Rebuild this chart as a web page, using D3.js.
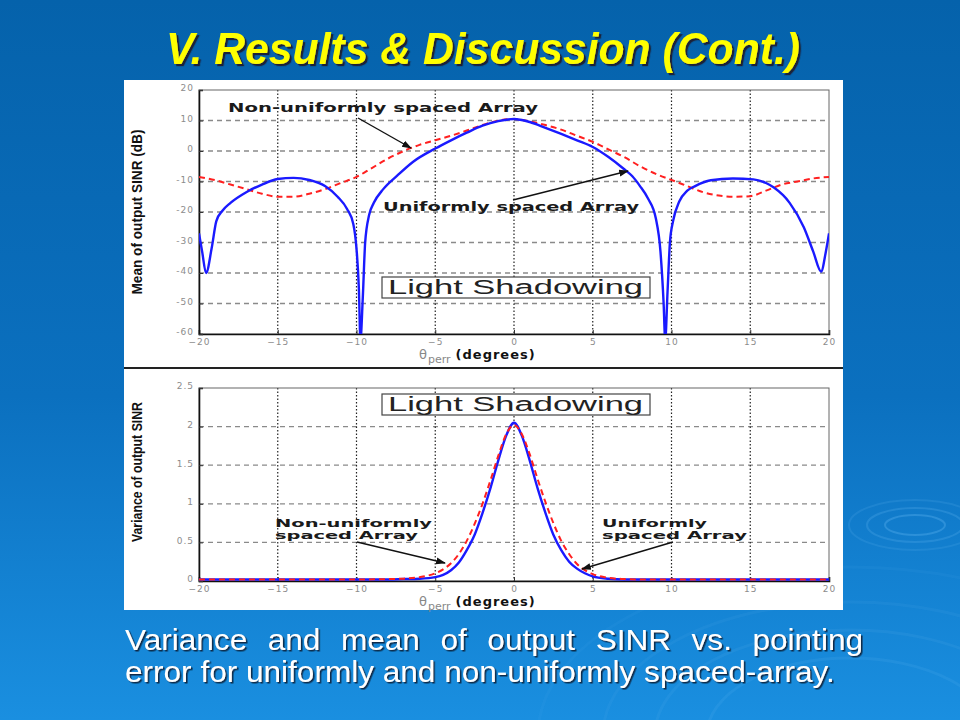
<!DOCTYPE html>
<html>
<head>
<meta charset="utf-8">
<script src="https://cdn.jsdelivr.net/npm/d3@7"></script>
<style>
body { margin: 0; padding: 0; background: #0a6ab8; }
svg { display: block; }
</style>
</head>
<body>
<svg id="chart" width="960" height="720"></svg>
<script>
// x axis ticks (pointing error, degrees)
var xTicks = [-20, -15, -10, -5, 0, 5, 10, 15, 20];
var meanTicks = [-60, -50, -40, -30, -20, -10, 0, 10, 20];
var varTicks = [0, 0.5, 1, 1.5, 2, 2.5];
var varTickLabels = ["0", "0.5", "1", "1.5", "2", "2.5"];

// mean of output SINR (dB), uniformly spaced array
var meanUniform = [
  [-20, -27], [-19.8, -33], [-19.55, -40], [-19.2, -32], [-18.9, -23], [-18.5, -19.5],
  [-18, -17], [-17, -13.5], [-16, -11], [-15, -9.2], [-14, -8.8], [-13, -9.5],
  [-12, -11.5], [-11.2, -15], [-10.6, -19], [-10.2, -24], [-10, -32], [-9.85, -45],
  [-9.75, -62], [-9.6, -48], [-9.45, -30], [-9.2, -21], [-8.9, -17], [-8.3, -12.5],
  [-7.4, -8], [-6.4, -3.5], [-5, 0.8], [-4, 3.5], [-3, 6], [-2, 8.3], [-1, 9.8],
  [0, 10.5], [1, 9.5], [2, 7.6], [3, 5.6], [4, 3.5], [5, 1.3], [6, -2], [7, -6],
  [7.5, -8.2], [8, -11.5], [8.5, -15.5], [9, -22], [9.3, -33], [9.5, -50], [9.6, -62],
  [9.75, -46], [9.9, -30], [10.1, -23], [10.5, -16.5], [11, -13], [11.5, -11.5],
  [12.5, -9.6], [13.9, -9], [15.2, -9.3], [16, -10.5], [16.5, -12], [17.5, -17],
  [18.4, -25], [19, -33], [19.5, -39.5], [19.8, -33], [20, -27]
];

// mean of output SINR (dB), non-uniformly spaced array
var meanNonUniform = [
  [-20, -8.5], [-19, -9.5], [-18, -11], [-17, -12.5], [-16, -14], [-15, -15],
  [-14, -15], [-13, -14], [-12, -12.5], [-11, -10.5], [-10, -8.5], [-9, -5.5],
  [-8, -2.5], [-7, 0], [-6, 2], [-5, 3.5], [-4, 5], [-3, 6.7], [-2, 8.5], [-1, 10],
  [0, 10.5], [1, 9.7], [2, 8.5], [3, 7], [4, 5], [5, 3], [6, 0.5], [7, -2], [8, -5],
  [9, -7.5], [10, -9.5], [11, -11.5], [12, -13.5], [13, -14.6], [14, -15], [15, -14.8],
  [16, -13], [17, -11], [18, -10], [19, -9], [20, -8.5]
];

// variance of output SINR
var varUniform = [
  [-20, 0.02], [-10, 0.02], [-8, 0.02], [-7, 0.025], [-6, 0.03], [-5, 0.05], [-4.5, 0.08],
  [-4, 0.14], [-3.5, 0.24], [-3, 0.4], [-2.5, 0.6], [-2, 0.88], [-1.5, 1.2], [-1, 1.56],
  [-0.5, 1.88], [0, 2.05], [0.5, 1.88], [1, 1.56], [1.5, 1.2], [2, 0.88], [2.5, 0.6],
  [3, 0.4], [3.5, 0.25], [4, 0.16], [4.5, 0.1], [5, 0.06], [6, 0.03], [7, 0.02],
  [8, 0.02], [20, 0.02]
];
var varNonUniform = [
  [-20, 0.02], [-10, 0.02], [-8, 0.025], [-7, 0.03], [-6, 0.05], [-5, 0.1], [-4.5, 0.15],
  [-4, 0.23], [-3.5, 0.35], [-3, 0.52], [-2.5, 0.74], [-2, 1.0], [-1.5, 1.3], [-1, 1.62],
  [-0.5, 1.9], [0, 2.02], [0.5, 1.9], [1, 1.64], [1.5, 1.32], [2, 1.02], [2.5, 0.75],
  [3, 0.52], [3.5, 0.35], [4, 0.22], [4.5, 0.14], [5, 0.09], [6, 0.04], [7, 0.025],
  [8, 0.02], [20, 0.02]
];

var svg = d3.select("#chart");
var defs = svg.append("defs");

// slide background
var bg = defs.append("linearGradient").attr("id", "bg")
  .attr("x1", 0).attr("y1", 0).attr("x2", 0).attr("y2", 1);
bg.append("stop").attr("offset", "0%").attr("stop-color", "#0562ab");
bg.append("stop").attr("offset", "55%").attr("stop-color", "#0b70bf");
bg.append("stop").attr("offset", "100%").attr("stop-color", "#1a8fe0");
svg.append("rect").attr("width", 960).attr("height", 720).attr("fill", "url(#bg)");

// text shadows
function shadow(id, dx, color) {
  defs.append("filter").attr("id", id).attr("x", "-5%").attr("y", "-20%")
    .attr("width", "110%").attr("height", "150%")
    .append("feDropShadow").attr("dx", dx).attr("dy", dx).attr("stdDeviation", 0.4)
    .attr("flood-color", color).attr("flood-opacity", 1);
}
shadow("titleShadow", 2.2, "#1b2238");
shadow("capShadow", 1.5, "#0b2a4a");

// water ripples decoration
var ripples = svg.append("g").attr("fill", "none").attr("stroke", "#5fb4f0");
[[30, 10, 0.35], [48, 17, 0.25], [66, 25, 0.18]].forEach(function(r) {
  ripples.append("ellipse").attr("cx", 915).attr("cy", 525)
    .attr("rx", r[0]).attr("ry", r[1]).attr("stroke-width", 2).attr("opacity", r[2]);
});
[[110, 0.15], [150, 0.12], [190, 0.10], [240, 0.08]].forEach(function(r) {
  ripples.append("ellipse").attr("cx", 850).attr("cy", 735)
    .attr("rx", r[0] * 1.3).attr("ry", r[0] * 0.7).attr("stroke-width", 3).attr("opacity", r[1]);
});

// title
svg.append("text").attr("x", 483).attr("y", 64).attr("text-anchor", "middle")
  .attr("font-family", "'Liberation Sans', Arial, sans-serif")
  .attr("font-weight", "bold").attr("font-style", "italic").attr("font-size", 44)
  .attr("textLength", 634).attr("lengthAdjust", "spacingAndGlyphs")
  .attr("fill", "#ffff00").attr("filter", "url(#titleShadow)")
  .text("V. Results & Discussion (Cont.)");

// white figure panel
svg.append("rect").attr("x", 124).attr("y", 80).attr("width", 719).attr("height", 530).attr("fill", "#fff");
svg.append("line").attr("x1", 124).attr("x2", 843).attr("y1", 368).attr("y2", 368)
  .attr("stroke", "#222").attr("stroke-width", 2);

var x = d3.scaleLinear().domain([-20, 20]).range([199, 829]);
var yMean = d3.scaleLinear().domain([-60, 20]).range([334, 90]);
var yVar = d3.scaleLinear().domain([0, 2.5]).range([581, 388]);

var tickFont = "'DejaVu Sans', sans-serif";

function drawPanel(y, yTickVals, yTickFmt, clipId) {
  var g = svg.append("g");
  var top = y.range()[1], bottom = y.range()[0];

  // grid
  g.selectAll(".hgrid").data(yTickVals.slice(1, -1)).enter().append("line")
    .attr("x1", x(-20)).attr("x2", x(20))
    .attr("y1", function(d) { return y(d); }).attr("y2", function(d) { return y(d); })
    .attr("stroke", "#8a8a8a").attr("stroke-width", 1.3).attr("stroke-dasharray", "5,4");
  g.selectAll(".vgrid").data(xTicks.slice(1, -1)).enter().append("line")
    .attr("x1", function(d) { return x(d); }).attr("x2", function(d) { return x(d); })
    .attr("y1", top).attr("y2", bottom)
    .attr("stroke", "#222").attr("stroke-width", 1.2).attr("stroke-dasharray", "1.5,2");

  // box
  g.append("rect").attr("x", x(-20)).attr("y", top).attr("width", x(20) - x(-20))
    .attr("height", bottom - top).attr("fill", "none").attr("stroke", "#666").attr("stroke-width", 1);

  // axes
  var xa = g.append("g").attr("transform", "translate(0," + bottom + ")")
    .call(d3.axisBottom(x).tickValues(xTicks).tickSize(-4).tickPadding(4));
  var ya = g.append("g").attr("transform", "translate(" + x(-20) + ",0)")
    .call(d3.axisLeft(y).tickValues(yTickVals).tickFormat(yTickFmt).tickSize(-4).tickPadding(5));
  [xa, ya].forEach(function(a) {
    a.select(".domain").attr("stroke", "#111").attr("stroke-width", 1.6);
    a.selectAll(".tick line").attr("stroke", "#333");
    a.selectAll("text").attr("fill", "#8c8c8c").attr("font-family", tickFont)
      .attr("font-size", 9).attr("letter-spacing", 1);
  });
  xa.selectAll("text").attr("dy", "0.75em");
  ya.selectAll("text").attr("dy", "0.1em");

  // x label
  var xl = g.append("text").attr("x", 419).attr("y", bottom + 25)
    .attr("font-family", tickFont).attr("font-size", 13);
  xl.append("tspan").attr("fill", "#888").text("θ");
  xl.append("tspan").attr("fill", "#888").attr("font-size", 11).attr("dy", 4).attr("dx", 1).text("perr");
  xl.append("tspan").attr("fill", "#111").attr("font-weight", "bold").attr("dy", -4).attr("dx", 5)
    .attr("letter-spacing", 1).text("(degrees)");

  defs.append("clipPath").attr("id", clipId).append("rect")
    .attr("x", x(-20)).attr("y", top).attr("width", x(20) - x(-20)).attr("height", bottom - top);
  return g;
}

var line = function(y) {
  return d3.line().x(function(d) { return x(d[0]); }).y(function(d) { return y(d[1]); })
    .curve(d3.curveMonotoneX);
};

function labelBox(g, yTop) {
  g.append("rect").attr("x", 382).attr("y", yTop).attr("width", 268).attr("height", 21)
    .attr("fill", "#fff").attr("stroke", "#444").attr("stroke-width", 1.2);
  g.append("text").attr("x", 388).attr("y", yTop + 17)
    .attr("font-family", "'Liberation Sans', Arial, sans-serif").attr("font-size", 20)
    .attr("fill", "#222").attr("textLength", 255).attr("lengthAdjust", "spacingAndGlyphs")
    .text("Light Shadowing");
}

defs.append("marker").attr("id", "arrow").attr("viewBox", "0 0 10 10")
  .attr("refX", 9).attr("refY", 5).attr("markerWidth", 7).attr("markerHeight", 7)
  .attr("orient", "auto").append("path").attr("d", "M0,1.5 L10,5 L0,8.5 Z").attr("fill", "#111");

function annotation(g, lines, tx, ty, tw, a) {
  lines.forEach(function(s, i) {
    g.append("text").attr("x", tx).attr("y", ty + i * 12)
      .attr("font-family", "'DejaVu Sans', sans-serif").attr("font-weight", "bold")
      .attr("font-size", lines.length > 1 ? 10.5 : 12).attr("fill", "#1a1a1a")
      .attr("textLength", tw[i]).attr("lengthAdjust", "spacingAndGlyphs").text(s);
  });
  g.append("line").attr("x1", a[0]).attr("y1", a[1]).attr("x2", a[2]).attr("y2", a[3])
    .attr("stroke", "#111").attr("stroke-width", 1.4).attr("marker-end", "url(#arrow)");
}

var yLabelFont = "'Liberation Sans', Arial, sans-serif";

// top panel: mean
var gm = drawPanel(yMean, meanTicks, function(d) { return d; }, "clipMean");
gm.append("text").attr("transform", "translate(142,212) rotate(-90)").attr("text-anchor", "middle")
  .attr("font-family", yLabelFont).attr("font-size", 15).attr("font-weight", "bold")
  .attr("fill", "#111").attr("textLength", 165).attr("lengthAdjust", "spacingAndGlyphs")
  .text("Mean of output SINR (dB)");
var cm = gm.append("g").attr("clip-path", "url(#clipMean)");
cm.append("path").datum(meanNonUniform).attr("d", line(yMean)).attr("fill", "none")
  .attr("stroke", "#ff2020").attr("stroke-width", 2).attr("stroke-dasharray", "6,4");
cm.append("path").datum(meanUniform).attr("d", line(yMean)).attr("fill", "none")
  .attr("stroke", "#1a1aff").attr("stroke-width", 2.4);
labelBox(gm, 277);
annotation(gm, ["Non-uniformly spaced Array"], 228, 112, [310], [358, 118, 411, 148]);
annotation(gm, ["Uniformly spaced Array"], 383, 211, [256], [513, 200, 628, 171]);

// bottom panel: variance
var gv = drawPanel(yVar, varTicks, function(d, i) { return varTickLabels[i]; }, "clipVar");
gv.append("text").attr("transform", "translate(142,472) rotate(-90)").attr("text-anchor", "middle")
  .attr("font-family", yLabelFont).attr("font-size", 14).attr("font-weight", "bold")
  .attr("fill", "#111").attr("textLength", 140).attr("lengthAdjust", "spacingAndGlyphs")
  .text("Variance of output SINR");
var cv = gv.append("g").attr("clip-path", "url(#clipVar)");
cv.append("path").datum(varUniform).attr("d", line(yVar)).attr("fill", "none")
  .attr("stroke", "#1a1aff").attr("stroke-width", 2.4);
cv.append("path").datum(varNonUniform).attr("d", line(yVar)).attr("fill", "none")
  .attr("stroke", "#ff2020").attr("stroke-width", 2).attr("stroke-dasharray", "6,4");
labelBox(gv, 394);
annotation(gv, ["Non-uniformly", "spaced Array"], 275, 527, [157, 143], [357, 542, 445, 563]);
annotation(gv, ["Uniformly", "spaced Array"], 602, 527, [105, 145], [673, 542, 582, 569]);

// caption: narrowed font, first line justified by word spacing
var capFont = "'Liberation Sans', Arial, sans-serif";
var caption = [
  { t: "Variance and mean of output SINR vs. pointing", y: 650, w: 738 },
  { t: "error for uniformly and non-uniformly spaced-array.", y: 682, w: 710 }
];
var capNodes = caption.map(function(c) {
  return svg.append("text").attr("font-family", capFont).attr("font-size", 30)
    .attr("fill", "#fff").attr("filter", "url(#capShadow)").text(c.t);
});
var len2 = capNodes[1].node().getComputedTextLength();
var k = caption[1].w / len2;
capNodes.forEach(function(n, i) {
  n.attr("transform", "translate(125," + caption[i].y + ") scale(" + k + ",1)");
});
var len1 = capNodes[0].node().getComputedTextLength();
var gaps = caption[0].t.split(" ").length - 1;
capNodes[0].attr("word-spacing", (caption[0].w / k - len1) / gaps);
</script>
</body>
</html>
